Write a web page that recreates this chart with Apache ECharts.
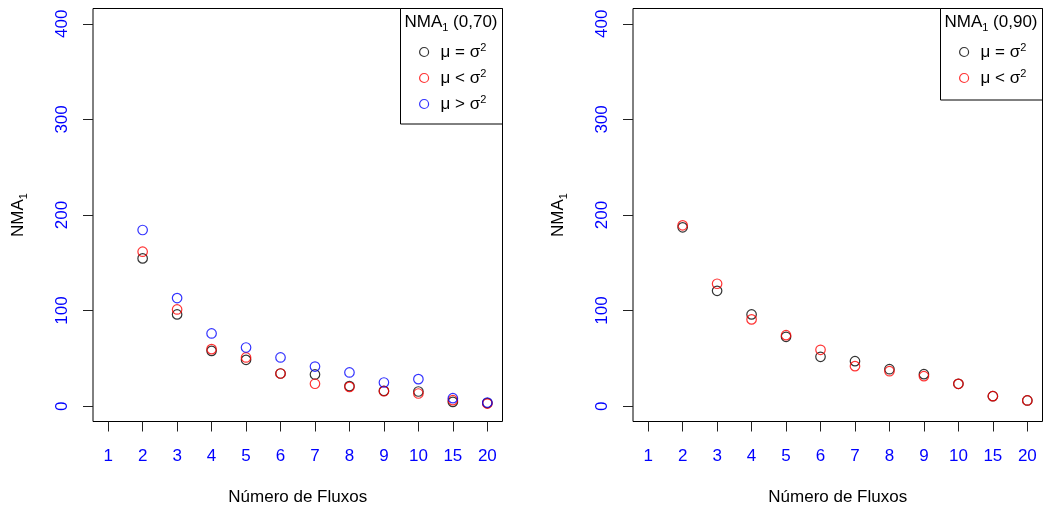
<!DOCTYPE html>
<html>
<head>
<meta charset="utf-8">
<script src="https://cdn.jsdelivr.net/npm/echarts@6/dist/echarts.min.js"></script>
<style>
  html, body { margin: 0; padding: 0; background: #fff; }
  #chart { width: 1043px; height: 509px; }
</style>
</head>
<body>
<div id="chart"></div>
<script>
// Tick labels of the flow-count axis (positions 1..12)
const fluxLabels = ['1', '2', '3', '4', '5', '6', '7', '8', '9', '10', '15', '20'];
const yTicks = [0, 100, 200, 300, 400];

// NMA1 for rho = 0,70
const left_eq = [null, 154.6, 96.0, 57.9, 48.5, 34.2, 33.2, 21.0, 16.0, 15.4, 4.5, 3.3];
const left_lt = [null, 161.6, 101.2, 59.7, 51.0, 34.2, 23.5, 20.2, 15.7, 13.3, 6.3, 2.8];
const left_gt = [null, 184.3, 113.1, 76.1, 61.4, 51.0, 41.5, 35.3, 24.8, 28.3, 8.4, 3.9];

// NMA1 for rho = 0,90
const right_eq = [null, 187.1, 120.7, 96.0, 72.6, 51.7, 47.1, 38.7, 33.5, 23.4, 10.5, 6.0];
const right_lt = [null, 189.2, 128.1, 90.8, 74.3, 59.0, 41.9, 36.6, 31.4, 23.4, 10.5, 6.0];

const NAME_EQ = 'μ = σ²';
const NAME_LT = 'μ < σ²';
const NAME_GT = 'μ > σ²';

const FONT = '"Liberation Sans", Arial, Helvetica, sans-serif';
const BLUE = '#0000ff';

function pairs(arr) {
  const out = [];
  arr.forEach((v, i) => { if (v !== null) out.push([i + 1, v]); });
  return out;
}

function scatter(name, color, values, idx) {
  return {
    type: 'scatter',
    name: name,
    xAxisIndex: idx,
    yAxisIndex: idx,
    data: pairs(values),
    symbol: 'circle',
    symbolSize: 9.5,
    itemStyle: { color: 'rgba(0,0,0,0)', borderColor: color, borderWidth: 1.2 },
    emphasis: { disabled: true },
    z: 3
  };
}

const OFFSET = 540;
const GRID_LEFT = 93;
const GRID_W = 409.5;

function xAxis(idx) {
  return {
    type: 'value',
    gridIndex: idx,
    min: 0.56,
    max: 12.44,
    splitLine: { show: false },
    axisLine: { show: false, onZero: false },
    axisTick: { customValues: fluxLabels.map((_, i) => i + 1), length: 10, lineStyle: { color: '#222', width: 1 } },
    axisLabel: {
      customValues: fluxLabels.map((_, i) => i + 1),
      formatter: v => fluxLabels[Math.round(v) - 1],
      color: BLUE, fontSize: 17, fontFamily: FONT, margin: 26
    },
    name: 'Número de Fluxos',
    nameLocation: 'middle',
    nameGap: 67,
    nameTextStyle: { color: '#000', fontSize: 17, fontFamily: FONT }
  };
}

function yAxis(idx) {
  return {
    type: 'value',
    gridIndex: idx,
    min: -16,
    max: 416,
    splitLine: { show: false },
    axisLine: { show: false, onZero: false },
    axisTick: { customValues: yTicks, length: 10, lineStyle: { color: '#222', width: 1 } },
    axisLabel: {
      customValues: yTicks,
      rotate: 90,
      color: BLUE, fontSize: 17, fontFamily: FONT, margin: 22
    },
    name: '{a|NMA}{s|1}',
    nameLocation: 'middle',
    nameRotate: 90,
    nameGap: 64,
    nameTextStyle: {
      rich: {
        a: { fontSize: 17, fontFamily: FONT, color: '#000', lineHeight: 22, verticalAlign: 'middle' },
        s: { fontSize: 11, fontFamily: FONT, color: '#000', lineHeight: 22, verticalAlign: 'bottom' }
      }
    }
  };
}

function legendText(name) {
  const base = name.slice(0, -1);
  return '{t|' + base + '}{p|2}';
}

function legend(idx, names, colors) {
  return {
    left: 414 + idx * OFFSET,
    top: 37,
    orient: 'vertical',
    itemWidth: 9,
    itemHeight: 9,
    itemGap: 7.5,
    selectedMode: false,
    data: names.map((n, i) => ({
      name: n,
      icon: 'circle',
      itemStyle: { color: 'rgba(0,0,0,0)', borderColor: colors[i], borderWidth: 1.2 }
    })),
    formatter: legendText,
    textStyle: {
      rich: {
        t: { fontSize: 17, fontFamily: FONT, color: '#000', lineHeight: 20, padding: [0, 0, 0, 7], verticalAlign: 'middle' },
        p: { fontSize: 11, fontFamily: FONT, color: '#000', lineHeight: 20, verticalAlign: 'top' }
      }
    }
  };
}

function legendBox(idx, height, label) {
  return [
    {
      type: 'rect',
      shape: { x: 400.5 + idx * OFFSET, y: 8.5, width: 102, height: height },
      style: { fill: '#fff', stroke: '#000', lineWidth: 1 },
      z: 5
    },
    {
      type: 'text',
      x: 451 + idx * OFFSET,
      y: 22,
      style: {
        text: '{a|NMA}{s|1}{a| ' + label + '}',
        align: 'center',
        verticalAlign: 'middle',
        rich: {
          a: { fontSize: 17, fontFamily: FONT, fill: '#000', lineHeight: 22, verticalAlign: 'middle' },
          s: { fontSize: 11, fontFamily: FONT, fill: '#000', lineHeight: 22, verticalAlign: 'bottom' }
        }
      },
      z: 6
    }
  ];
}

function grid(idx) {
  return {
    left: GRID_LEFT + idx * OFFSET,
    top: 8.5,
    width: GRID_W,
    height: 413,
    outerBoundsMode: 'none',
    containLabel: false,
    show: true,
    borderColor: '#000',
    borderWidth: 1,
    backgroundColor: 'transparent'
  };
}

const chart = echarts.init(document.getElementById('chart'), null, { renderer: 'canvas' });

chart.setOption({
  animation: false,
  backgroundColor: '#fff',
  grid: [grid(0), grid(1)],
  xAxis: [xAxis(0), xAxis(1)],
  yAxis: [yAxis(0), yAxis(1)],
  legend: [
    Object.assign(legend(0, [NAME_EQ, NAME_LT, NAME_GT], ['#000', '#ff0000', BLUE]), { z: 7 }),
    Object.assign(legend(1, [NAME_EQ, NAME_LT], ['#000', '#ff0000']), { z: 7 })
  ],
  graphic: [].concat(legendBox(0, 115.5, '(0,70)'), legendBox(1, 91.5, '(0,90)')),
  series: [
    scatter(NAME_EQ, '#000', left_eq, 0),
    scatter(NAME_LT, '#ff0000', left_lt, 0),
    scatter(NAME_GT, BLUE, left_gt, 0),
    scatter(NAME_EQ, '#000', right_eq, 1),
    scatter(NAME_LT, '#ff0000', right_lt, 1)
  ]
});
</script>
</body>
</html>
